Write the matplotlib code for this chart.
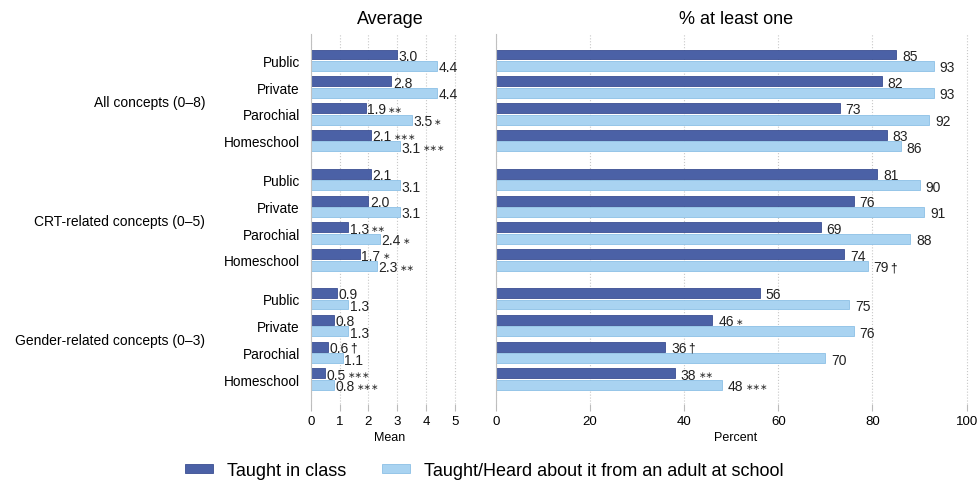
import matplotlib
matplotlib.use("Agg")
import matplotlib.pyplot as plt
import matplotlib.transforms as mtransforms
from matplotlib.patches import Patch
import numpy as np

plt.rcParams["font.family"] = ["Liberation Sans", "DejaVu Sans"]

groups = ["All concepts (0–8)", "CRT-related concepts (0–5)", "Gender-related concepts (0–3)"]
schools = ["Public", "Private", "Parochial", "Homeschool"]

avg_class = [3.0, 2.8, 1.9, 2.1, 2.1, 2.0, 1.3, 1.7, 0.9, 0.8, 0.6, 0.5]
avg_adult = [4.4, 4.4, 3.5, 3.1, 3.1, 3.1, 2.4, 2.3, 1.3, 1.3, 1.1, 0.8]
avg_class_sig = ["", "", "**", "***", "", "", "**", "*", "", "", "†", "***"]
avg_adult_sig = ["", "", "*", "***", "", "", "*", "**", "", "", "", "***"]

pct_class = [85, 82, 73, 83, 81, 76, 69, 74, 56, 46, 36, 38]
pct_adult = [93, 93, 92, 86, 90, 91, 88, 79, 75, 76, 70, 48]
pct_class_sig = ["", "", "", "", "", "", "", "", "", "*", "†", "**"]
pct_adult_sig = ["", "", "", "", "", "", "", "†", "", "", "", "***"]

series_labels = ["Taught in class", "Taught/Heard about it from an adult at school"]
dark = "#4b61a6"
dark_edge = "#3b4f92"
light = "#a9d3f1"
light_edge = "#8cc0e6"

# y positions: 4 schools per group, extra gap between groups
group_step = 4.45
ypos = np.array([g * group_step + j for g in range(len(groups)) for j in range(len(schools))])
off = 0.215
h = 0.37

fig = plt.figure(figsize=(9.8, 4.85), dpi=100)
ax_l = fig.add_axes([311 / 980, 1 - 405 / 485, 158 / 980, 370 / 485])
ax_r = fig.add_axes([496 / 980, 1 - 405 / 485, 480 / 980, 370 / 485])


def add_sig(ax, txt, sig):
    if not sig:
        return
    if sig == "†":
        ax.annotate(sig, xy=(1, 0.5), xycoords=txt, xytext=(1.0, 0),
                    textcoords="offset points", va="center", ha="left", fontsize=8.5)
    else:
        ax.annotate("∗" * len(sig), xy=(1, 0.5), xycoords=txt, xytext=(1.5, 0),
                    textcoords="offset points", va="center", ha="left", fontsize=6.5,
                    color="#333333")


def draw_panel(ax, v_class, v_adult, s_class, s_adult, fmt, gap):
    ax.barh(ypos - off, v_class, height=h, color=dark, edgecolor=dark_edge, linewidth=0.6)
    ax.barh(ypos + off, v_adult, height=h, color=light, edgecolor=light_edge, linewidth=0.6)
    for y, v, s in zip(ypos - off, v_class, s_class):
        t = ax.annotate(fmt.format(v), xy=(v, y), xytext=(gap, -1), textcoords="offset points",
                        va="center", ha="left", fontsize=10, color="#222222")
        add_sig(ax, t, s)
    for y, v, s in zip(ypos + off, v_adult, s_adult):
        t = ax.annotate(fmt.format(v), xy=(v, y), xytext=(gap, -1), textcoords="offset points",
                        va="center", ha="left", fontsize=10, color="#222222")
        add_sig(ax, t, s)

    top = -(61.25 - 35) / 26.8
    bottom = (405 - 61.25) / 26.8
    ax.set_ylim(bottom, top)
    ax.grid(axis="x", linestyle=":", color="#c8c8c8", linewidth=0.8)
    ax.set_axisbelow(True)
    for side in ["top", "right", "bottom"]:
        ax.spines[side].set_visible(False)
    ax.spines["left"].set_color("#c0c0c0")
    ax.spines["left"].set_linewidth(0.8)
    ax.tick_params(axis="x", length=5, color="#bbbbbb", labelsize=9.5, pad=3)


draw_panel(ax_l, avg_class, avg_adult, avg_class_sig, avg_adult_sig, "{:.1f}", 1.0)
draw_panel(ax_r, pct_class, pct_adult, pct_class_sig, pct_adult_sig, "{:d}", 4.3)

ax_l.set_xlim(0, 5.5)
ax_l.set_xticks([0, 1, 2, 3, 4, 5])
ax_l.set_yticks(ypos)
ax_l.set_yticklabels(schools * len(groups), fontsize=9.8)
ax_l.tick_params(axis="y", length=0, pad=8)
ax_l.set_xlabel("Mean", fontsize=9, labelpad=3)
ax_l.set_title("Average", fontsize=13, pad=8)

ax_r.set_xlim(0, 102)
ax_r.set_xticks([0, 20, 40, 60, 80, 100])
ax_r.set_yticks([])
ax_r.set_xlabel("Percent", fontsize=9, labelpad=3)
ax_r.set_title("% at least one", fontsize=13, pad=8)

# group labels on the far left
blend = mtransforms.blended_transform_factory(fig.transFigure, ax_l.transData)
for g, name in enumerate(groups):
    yc = ypos[g * 4:(g + 1) * 4].mean() + 0.05
    ax_l.text(205 / 980, yc, name, transform=blend, ha="right", va="center", fontsize=10)

handles = [Patch(facecolor=dark, edgecolor=dark_edge, linewidth=0.6),
           Patch(facecolor=light, edgecolor=light_edge, linewidth=0.6)]
fig.legend(handles, series_labels, loc="center", bbox_to_anchor=(0.494, 0.028), ncol=2,
           frameon=False, fontsize=13, handlelength=1.55, handleheight=0.4,
           handletextpad=0.75, columnspacing=2.0)

fig.savefig("out.png", dpi=100)
plt.close(fig)
